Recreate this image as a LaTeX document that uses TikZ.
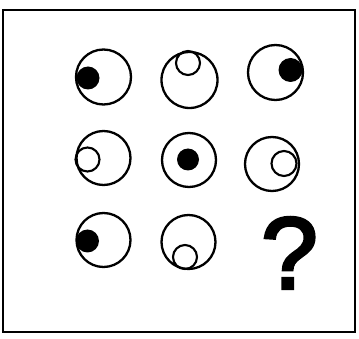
\documentclass[tikz,border=0pt]{standalone}
\usepackage{fontspec}
\newfontface\qmfont[FakeBold=3]{Liberation Sans}
\usepackage{tikz}

\begin{document}
\begin{tikzpicture}[
  x=1pt, y=-1pt,
  frm/.style={draw=black, line width=2pt},
  eye/.style={draw=black, line width=2.3pt},
  dot/.style={fill=black},
  ring/.style={draw=black, line width=2.1pt}
]
\useasboundingbox (0,0) rectangle (359,339);

% ==================== FRAME ====================
\draw[frm] (3,10) rectangle (355,332);

% ==================== ROW 1 ====================
\fill[dot] (88,78) circle (11.5);
\draw[eye] (103.5,77) circle (27.5);

\draw[ring] (188,63) circle (12);
\draw[eye] (189.5,80) circle (28);

\fill[dot] (290.5,70) circle (12);
\draw[eye] (275.5,72.5) circle (27.5);

% ==================== ROW 2 ====================
\draw[ring] (87.5,159.5) circle (12);
\draw[eye] (103.5,158) circle (27);

\fill[dot] (188,159.5) circle (11);
\draw[eye] (189,160) circle (27);

\draw[ring] (284,163.5) circle (12.5);
\draw[eye] (272,164) circle (27);

% ==================== ROW 3 ====================
\fill[dot] (87.5,241) circle (11.5);
\draw[eye] (103.5,240) circle (27);

\draw[ring] (185,257) circle (12);
\draw[eye] (188.5,242) circle (27);

% question mark
\node[inner sep=0pt, anchor=base, font=\qmfont\fontsize{102}{102}\selectfont] (qm) at (289.5,288.5) {?};

\end{tikzpicture}
\end{document}
